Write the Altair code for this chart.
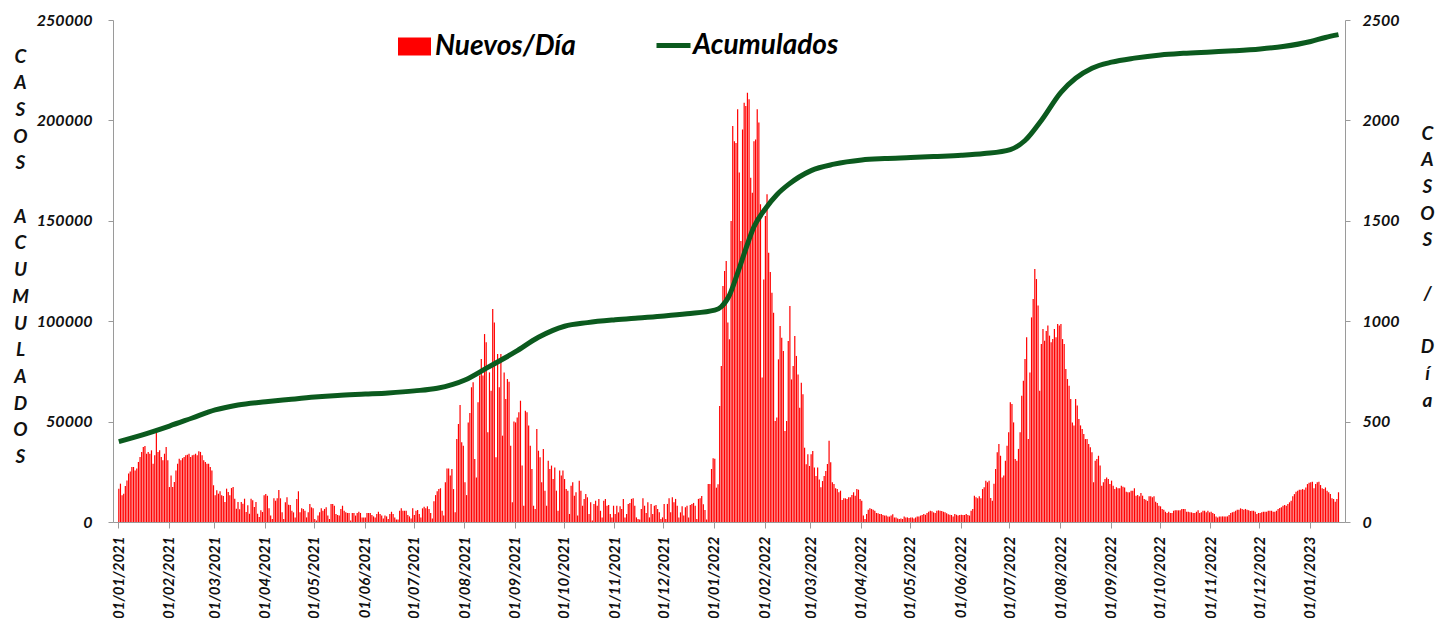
import calendar
import altair as alt
import pandas as pd

# ---------------- Datos: casos nuevos por día ----------------
ene21 = [166,191,133,141,179,207,241,252,274,274,257,266,299,324,349,374,378,340,349,340,357,290,332,448,349,357,324,307,340,374,307]
feb21 = [174,232,174,199,257,290,315,307,318,324,332,335,340,324,332,335,340,332,352,349,332,307,299,290,290,274,257,183]
mar21 = [133,158,141,153,133,129,100,166,149,133,169,174,116,66,100,63,100,91,116,50,83,41,116,108,75,100,41,25,58,50,133]
abr21 = [139,131,68,32,15,118,106,118,159,118,48,15,98,123,86,85,56,48,23,115,153,48,68,65,56,23,48,90,73,68]
may21 = [15,7,32,48,68,56,65,73,32,15,90,90,81,40,35,32,65,81,56,48,45,45,7,45,45,32,45,51,45,23,23]
jun21 = [22,45,45,45,35,28,22,40,51,40,32,18,32,28,15,40,51,40,23,12,12,56,68,56,56,56,35,28,18,68]
jul21 = [35,56,60,40,23,68,76,68,78,65,45,18,103,134,153,164,168,56,32,198,267,267,231,264,164,48,413,488,583,397,380]
ago21 = [198,134,496,543,671,696,314,222,596,729,812,729,936,895,447,745,654,1061,994,322,837,671,837,430,745,613,712,699,380,98,500]
sep21 = [496,521,546,604,281,81,554,546,480,380,264,81,65,463,355,322,198,364,156,81,305,264,281,214,272,156,56,256,231,256]
oct21 = [214,164,156,40,181,198,131,148,32,206,156,81,115,139,123,40,98,7,90,106,81,115,56,23,106,115,81,85,40,23,81]
nov21 = [40,81,48,78,65,115,23,40,90,95,115,118,81,23,15,12,65,118,81,45,98,23,90,40,81,85,65,48,15,23]
dic21 = [90,15,90,118,48,123,98,115,81,23,48,78,32,73,81,23,85,90,95,81,15,115,118,129,88,60,13,189,189,264,318]
ene22 = [315,171,188,578,777,1175,1250,1300,993,910,1499,1972,1896,1888,2055,1740,1400,1955,2088,2072,2138,2105,1715,1640,1896,1905,2055,1989,1582,719,1208]
feb22 = [1524,1632,1341,1245,1142,1042,503,520,810,976,918,852,453,503,901,1076,710,777,926,827,735,569,694,636,370,287,337,279]
mar22 = [337,354,271,229,271,212,173,204,229,254,289,405,297,198,189,168,164,148,156,110,118,118,115,123,123,134,148,131,164,161,115]
abr22 = [106,32,15,40,61,68,65,61,56,45,43,40,40,35,32,32,28,27,32,38,23,23,18,15,18,15,27,23,23,20]
may22 = [23,22,18,23,28,27,32,35,40,36,45,51,56,53,48,45,56,58,56,55,51,48,43,38,36,35,28,40,36,32,35]
jun22 = [36,35,35,40,35,32,56,65,131,123,118,128,118,164,173,206,198,206,120,106,190,264,347,388,330,222,231,305,380,447]
jul22 = [596,588,496,314,305,364,447,629,704,812,920,413,745,1019,1111,1260,1210,1078,654,886,961,903,951,978,928,895,911,961,920,986,978]
ago22 = [986,911,886,762,712,679,613,496,481,613,580,513,481,463,438,413,413,388,372,347,198,305,314,330,281,181,198,214,222,214,189]
sep22 = [206,181,164,173,168,168,181,176,172,151,148,148,156,156,168,131,134,128,144,131,115,111,105,128,128,123,128,101,95,81]
oct22 = [78,65,61,51,45,51,45,45,56,58,58,58,58,65,65,65,51,51,48,48,45,45,51,58,45,48,56,56,48,56,48]
nov22 = [51,45,40,28,23,28,28,28,28,28,28,35,45,48,51,56,61,61,68,65,61,65,61,58,55,56,56,51,40,45]
dic22 = [45,48,51,51,51,56,56,56,51,51,56,65,70,73,81,85,81,90,98,106,128,139,151,156,161,161,164,161,172,189,195]
ene23 = [198,201,168,189,198,201,184,168,164,172,156,148,139,118,115,101,115,148]

# ---------------- Datos: casos acumulados ----------------
acum_fechas = ["2021-01-01","2021-01-15","2021-02-01","2021-02-15","2021-03-01","2021-03-15",
               "2021-04-01","2021-04-15","2021-05-01","2021-05-15","2021-06-01","2021-06-15",
               "2021-07-01","2021-07-15","2021-08-01","2021-08-15","2021-09-01","2021-09-15",
               "2021-10-01","2021-10-15","2021-11-01","2021-11-15","2021-12-01","2021-12-15",
               "2022-01-01","2022-01-05","2022-01-10","2022-01-15","2022-01-20","2022-01-25",
               "2022-02-01","2022-02-08","2022-02-15","2022-03-01","2022-03-15","2022-04-01",
               "2022-04-15","2022-05-01","2022-05-15","2022-06-01","2022-06-15","2022-07-01",
               "2022-07-10","2022-07-20","2022-08-01","2022-08-10","2022-08-20","2022-09-01",
               "2022-09-15","2022-10-01","2022-10-15","2022-11-01","2022-11-15","2022-12-01",
               "2022-12-15","2023-01-01","2023-01-10","2023-01-18"]
acum_valores = [40000,43300,47800,51800,55800,58300,
                59900,61000,62200,63000,63700,64300,
                65300,66600,70700,77000,84800,92000,
                97500,99300,100700,101600,102600,103700,
                105500,107200,113000,124000,136000,147000,
                156000,163000,168000,175000,178200,180300,
                181000,181500,182000,182600,183500,185500,
                190000,200000,214000,221000,226000,229000,
                231000,232600,233400,234100,234700,235600,
                236800,239300,241300,242700]

meses = [(2021,1,ene21),(2021,2,feb21),(2021,3,mar21),(2021,4,abr21),(2021,5,may21),(2021,6,jun21),
         (2021,7,jul21),(2021,8,ago21),(2021,9,sep21),(2021,10,oct21),(2021,11,nov21),(2021,12,dic21),
         (2022,1,ene22),(2022,2,feb22),(2022,3,mar22),(2022,4,abr22),(2022,5,may22),(2022,6,jun22),
         (2022,7,jul22),(2022,8,ago22),(2022,9,sep22),(2022,10,oct22),(2022,11,nov22),(2022,12,dic22),
         (2023,1,ene23)]

fechas, nuevos = [], []
for (a, m, lst) in meses:
    if (a, m) != (2023, 1):
        assert len(lst) == calendar.monthrange(a, m)[1], (a, m, len(lst))
    for i, v in enumerate(lst):
        fechas.append(f"{a:04d}-{m:02d}-{i+1:02d}T12:00:00Z")
        nuevos.append(v)

df_bar = pd.DataFrame({"fecha": fechas, "nuevos": nuevos, "serie": "Nuevos/Día"})
df_line = pd.DataFrame({"fecha": [f + "T12:00:00Z" for f in acum_fechas],
                        "acum": acum_valores, "serie": "Acumulados"})

def ms(s):
    return int(pd.Timestamp(s).value // 10**6)

tick_vals = [ms(f"{a:04d}-{m:02d}-01T00:00:00Z") for a in (2021, 2022) for m in range(1, 13)] + [ms("2023-01-01T00:00:00Z")]
dominio_x = [ms("2021-01-01T00:00:00Z"), ms("2023-01-19T10:00:00Z")]

FONT = "Lato"
BL = "\u2800"  # línea en blanco (carácter visible sin tinta)
titulo_izq = ["C", "A", "S", "O", "S", BL, "A", "C", "U", "M", "U", "L", "A", "D", "O", "S"]
titulo_der = ["C", "A", "S", "O", "S", BL, "/", BL, "D", "í", "a"]

x_enc = alt.X("fecha:T",
              scale=alt.Scale(type="utc", domain=dominio_x, nice=False),
              axis=alt.Axis(values=tick_vals, format="%d/%m/%Y", labelAngle=270,
                            labelAlign="right", labelBaseline="middle", labelPadding=8,
                            labelFontSize=15, title=None, grid=False, tickSize=6,
                            labelOverlap=False))

bars = alt.Chart(df_bar).mark_bar(width=1.2).encode(
    x=x_enc,
    y=alt.Y("nuevos:Q",
            scale=alt.Scale(domain=[0, 2500], nice=False),
            axis=alt.Axis(orient="right", values=[0, 500, 1000, 1500, 2000, 2500], format="d",
                          labelPadding=12, grid=False, title=titulo_der,
                          titleAngle=0, titleX=82, titleY=104, titleAlign="center",
                          titleBaseline="top", titleLineHeight=26.7)),
    color=alt.Color("serie:N",
                    scale=alt.Scale(domain=["Nuevos/Día"], range=["#ff0000"]),
                    legend=alt.Legend(orient="none", legendX=285, legendY=10, title=None,
                                      symbolType="M-1,-0.55H1V0.55H-1Z", symbolSize=1089,
                                      symbolStrokeWidth=0, labelFont=FONT, labelFontSize=28,
                                      labelFontStyle="italic", labelFontWeight="bold",
                                      labelColor="#000000", labelOffset=4, padding=0)),
)

line = alt.Chart(df_line).mark_line(strokeWidth=5, interpolate="monotone").encode(
    x=alt.X("fecha:T"),
    y=alt.Y("acum:Q",
            scale=alt.Scale(domain=[0, 250000], nice=False),
            axis=alt.Axis(orient="left", values=[0, 50000, 100000, 150000, 200000, 250000],
                          format="d", labelPadding=16, grid=False, title=titulo_izq,
                          titleAngle=0, titleX=-93, titleY=27, titleAlign="center",
                          titleBaseline="top", titleLineHeight=26.7)),
    stroke=alt.Stroke("serie:N",
                      scale=alt.Scale(domain=["Acumulados"], range=["#0b5a1e"]),
                      legend=alt.Legend(orient="none", legendX=541, legendY=6, title=None,
                                        symbolType="stroke", symbolSize=1156, symbolStrokeWidth=5,
                                        labelFont=FONT, labelFontSize=28, labelFontStyle="italic",
                                        labelFontWeight="bold", labelColor="#000000",
                                        labelOffset=0, padding=0)),
)

chart = alt.layer(bars, line).resolve_scale(y="independent").properties(
    width=1232, height=502,
    autosize=alt.AutoSizeParams(type="none"),
    padding={"left": 105, "top": 12, "right": 91, "bottom": 96},
).configure_view(stroke=None).configure_axis(
    labelFont=FONT, labelFontSize=16, labelFontStyle="italic", labelFontWeight="bold",
    labelColor="#111111", domainColor="#9a9a9a", tickColor="#9a9a9a", tickSize=5,
    titleFont=FONT, titleFontSize=19, titleFontStyle="italic", titleFontWeight="bold",
    titleColor="#111111",
)

chart.save("out.html", embed_options={"renderer": "svg", "actions": False})
